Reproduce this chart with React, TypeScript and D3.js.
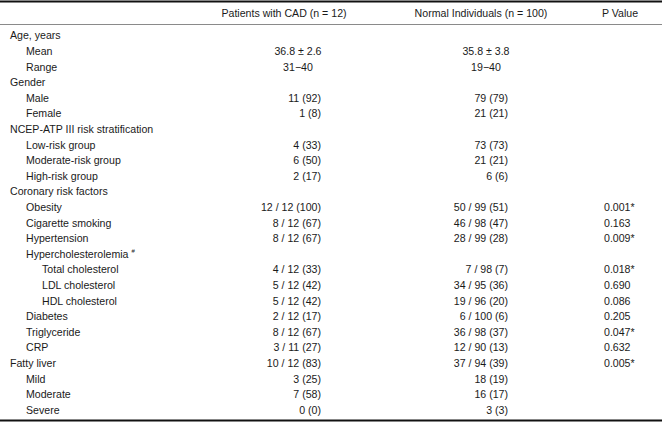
import * as d3 from 'd3'

const W = 662
const H = 423

const headers = ['', 'Patients with CAD (n = 12)', 'Normal Individuals (n = 100)', 'P Value']

const rowLabels = [
  'Age, years', 'Mean', 'Range',
  'Gender', 'Male', 'Female',
  'NCEP-ATP III risk stratification', 'Low-risk group', 'Moderate-risk group', 'High-risk group',
  'Coronary risk factors', 'Obesity', 'Cigarette smoking', 'Hypertension', 'Hypercholesterolemia',
  'Total cholesterol', 'LDL cholesterol', 'HDL cholesterol', 'Diabetes', 'Triglyceride', 'CRP',
  'Fatty liver', 'Mild', 'Moderate', 'Severe',
]

const indents = [0, 1, 1, 0, 1, 1, 0, 1, 1, 1, 0, 1, 1, 1, 1, 2, 2, 2, 1, 1, 1, 0, 1, 1, 1]

const cadValues = [
  '', '36.8 ± 2.6', '31−40',
  '', '11 (92)', '1 (8)',
  '', '4 (33)', '6 (50)', '2 (17)',
  '', '12 / 12 (100)', '8 / 12 (67)', '8 / 12 (67)', '',
  '4 / 12 (33)', '5 / 12 (42)', '5 / 12 (42)', '2 / 12 (17)', '8 / 12 (67)', '3 / 11 (27)',
  '10 / 12 (83)', '3 (25)', '7 (58)', '0 (0)',
]

const normalValues = [
  '', '35.8 ± 3.8', '19−40',
  '', '79 (79)', '21 (21)',
  '', '73 (73)', '21 (21)', '6 (6)',
  '', '50 / 99 (51)', '46 / 98 (47)', '28 / 99 (28)', '',
  '7 / 98 (7)', '34 / 95 (36)', '19 / 96 (20)', '6 / 100 (6)', '36 / 98 (37)', '12 / 90 (13)',
  '37 / 94 (39)', '18 (19)', '16 (17)', '3 (3)',
]

const pValues = [
  '', '', '',
  '', '', '',
  '', '', '', '',
  '', '0.001*', '0.163', '0.009*', '',
  '0.018*', '0.690', '0.086', '0.205', '0.047*', '0.632',
  '0.005*', '', '', '',
]

// rows whose values are centred rather than right-aligned
const centredRows = ['Mean', 'Range']
const superscriptRows = ['Hypercholesterolemia']

const font = '"Liberation Sans", Arial, Helvetica, sans-serif'
const fs = 10.6
const ink = '#1a1a1a'

export default function App() {
  const y = d3.scalePoint<number>()
    .domain(d3.range(rowLabels.length))
    .range([36.5, 411])

  const indentX = d3.scaleLinear().domain([0, 1, 2]).range([10, 26, 42])

  // column anchors
  const cadRight = 321
  const cadCentre = 298
  const normRight = 508
  const normCentre = 486
  const pLeft = 604
  const headerX = [0, 284, 481, 620]

  return (
    <div style={{ position: 'fixed', left: 0, top: 0, width: W, height: H, background: '#fff' }}>
      <svg width={W} height={H} style={{ display: 'block', fontFamily: font, fontSize: fs }}>
        <rect width={W} height={H} fill="#fff" />
        <line x1={0} x2={W} y1={1.5} y2={1.5} stroke="#111" strokeWidth={2} />
        <line x1={0} x2={W} y1={24.5} y2={24.5} stroke="#8a8a8a" strokeWidth={1} />
        <line x1={0} x2={W} y1={420.5} y2={420.5} stroke="#111" strokeWidth={2} />

        {headers.map((h, i) => i > 0 && (
          <text key={'h' + i} x={headerX[i]} y={14} textAnchor="middle" dominantBaseline="middle" fill={ink}>{h}</text>
        ))}

        {rowLabels.map((lab, i) => {
          const yy = y(i) as number
          const centred = centredRows.includes(lab)
          return (
            <g key={i}>
              <text x={indentX(indents[i])} y={yy} dominantBaseline="middle" fill={ink}>
                {lab}
                {superscriptRows.includes(lab) && (
                  <tspan fontSize={6} dx={3} dy={-4}>#</tspan>
                )}
              </text>
              {cadValues[i] && (
                <text x={centred ? cadCentre : cadRight} y={yy} textAnchor={centred ? 'middle' : 'end'}
                  dominantBaseline="middle" fill={ink}>{cadValues[i]}</text>
              )}
              {normalValues[i] && (
                <text x={centred ? normCentre : normRight} y={yy} textAnchor={centred ? 'middle' : 'end'}
                  dominantBaseline="middle" fill={ink}>{normalValues[i]}</text>
              )}
              {pValues[i] && (
                <text x={pLeft} y={yy} dominantBaseline="middle" fill={ink}>{pValues[i]}</text>
              )}
            </g>
          )
        })}
      </svg>
    </div>
  )
}
